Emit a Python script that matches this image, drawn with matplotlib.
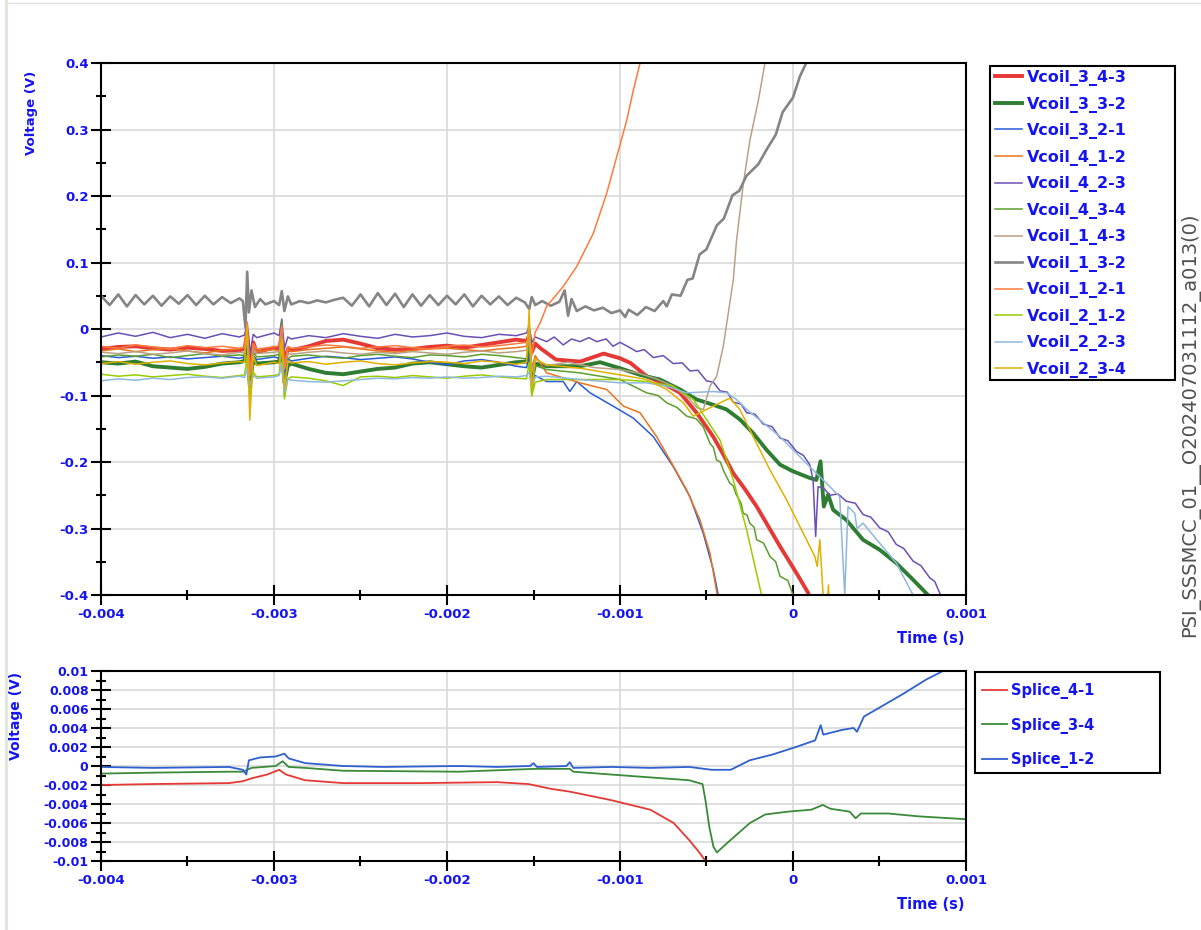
import numpy as np
import matplotlib
matplotlib.use('Agg')
import matplotlib.pyplot as plt
from matplotlib.ticker import MultipleLocator
from matplotlib.patches import Rectangle
from matplotlib.lines import Line2D

plt.rcParams['font.family'] = ['DejaVu Sans']
plt.rcParams['font.weight'] = 'bold'

BLUE = '#1414f0'

# ---------------- top panel data (time in ms, voltage in V) ----------------
names = ['Vcoil_3_4-3', 'Vcoil_3_3-2', 'Vcoil_3_2-1', 'Vcoil_4_1-2', 'Vcoil_4_2-3', 'Vcoil_4_3-4',
         'Vcoil_1_4-3', 'Vcoil_1_3-2', 'Vcoil_1_2-1', 'Vcoil_2_1-2', 'Vcoil_2_2-3', 'Vcoil_2_3-4']
colors = ['#e53935', '#2e7d32', '#2a5bd7', '#e8741c', '#6a4fb5', '#5c9e2e',
          '#b9a186', '#858585', '#ff7a3c', '#99cc00', '#8fb8de', '#e0b000']
widths = [2.8, 2.8, 1.1, 1.1, 1.1, 1.1, 1.1, 1.9, 1.1, 1.1, 1.1, 1.1]

# common time base for the flat part (before -1.45 ms)
t_flat = [-4.0, -3.9, -3.8, -3.7, -3.6, -3.5, -3.4, -3.3, -3.2, -3.17, -3.155, -3.14, -3.12,
          -3.1, -3.0, -2.97, -2.955, -2.94, -2.92, -2.9, -2.8, -2.7, -2.6, -2.5, -2.4, -2.3,
          -2.2, -2.1, -2.0, -1.9, -1.8, -1.7, -1.6, -1.54, -1.525, -1.51, -1.49]

flat_3_43 = [-0.030, -0.027, -0.026, -0.029, -0.031, -0.028, -0.030, -0.033, -0.032, -0.030, -0.005,
             -0.060, -0.020, -0.035, -0.028, -0.030, -0.010, -0.055, -0.030, -0.032, -0.026, -0.018,
             -0.016, -0.022, -0.029, -0.031, -0.030, -0.027, -0.025, -0.028, -0.024, -0.020, -0.016,
             -0.018, -0.010, -0.035, -0.022]
flat_3_32 = [-0.050, -0.052, -0.049, -0.056, -0.058, -0.060, -0.057, -0.052, -0.050, -0.048, -0.020,
             -0.085, -0.045, -0.052, -0.050, -0.049, -0.030, -0.080, -0.055, -0.052, -0.060, -0.066,
             -0.068, -0.064, -0.060, -0.058, -0.052, -0.050, -0.053, -0.056, -0.058, -0.054, -0.050,
             -0.049, -0.035, -0.075, -0.052]
flat_3_21 = [-0.040, -0.043, -0.041, -0.044, -0.042, -0.045, -0.043, -0.041, -0.044, -0.042, -0.015,
             -0.075, -0.040, -0.046, -0.042, -0.044, -0.020, -0.070, -0.045, -0.048, -0.044, -0.041,
             -0.043, -0.046, -0.044, -0.042, -0.045, -0.050, -0.054, -0.048, -0.046, -0.050, -0.056,
             -0.058, -0.040, -0.085, -0.070]
flat_4_12 = [-0.033, -0.030, -0.034, -0.031, -0.029, -0.033, -0.036, -0.032, -0.030, -0.028, 0.005,
             -0.070, -0.025, -0.034, -0.031, -0.033, -0.005, -0.060, -0.030, -0.034, -0.031, -0.029,
             -0.027, -0.030, -0.033, -0.035, -0.032, -0.030, -0.029, -0.031, -0.033, -0.030, -0.028,
             -0.026, 0.000, -0.060, -0.040]
flat_4_23 = [-0.012, -0.006, -0.011, -0.005, -0.013, -0.008, -0.014, -0.007, -0.012, -0.009, 0.010,
             -0.040, -0.008, -0.013, -0.006, -0.010, 0.015, -0.030, -0.012, -0.015, -0.010, -0.013,
             -0.007, -0.011, -0.014, -0.008, -0.012, -0.010, -0.006, -0.011, -0.013, -0.008, -0.010,
             -0.006, 0.005, -0.020, -0.012]
flat_4_34 = [-0.042, -0.039, -0.041, -0.038, -0.043, -0.040, -0.037, -0.041, -0.039, -0.040, 0.000,
             -0.090, -0.035, -0.042, -0.040, -0.038, 0.012, -0.100, -0.045, -0.041, -0.039, -0.042,
             -0.044, -0.040, -0.038, -0.041, -0.043, -0.039, -0.040, -0.042, -0.038, -0.040, -0.043,
             -0.045, -0.020, -0.100, -0.055]
flat_1_43 = [-0.035, -0.037, -0.034, -0.038, -0.036, -0.033, -0.037, -0.039, -0.035, -0.036, -0.010,
             -0.070, -0.030, -0.037, -0.035, -0.034, -0.015, -0.060, -0.036, -0.038, -0.035, -0.033,
             -0.036, -0.038, -0.035, -0.037, -0.034, -0.036, -0.038, -0.035, -0.033, -0.036, -0.034,
             -0.032, -0.015, -0.065, -0.045]
flat_1_21 = [-0.026, -0.029, -0.024, -0.027, -0.030, -0.025, -0.028, -0.026, -0.029, -0.027, 0.010,
             -0.065, -0.022, -0.030, -0.027, -0.025, 0.005, -0.058, -0.026, -0.029, -0.027, -0.024,
             -0.026, -0.029, -0.027, -0.025, -0.028, -0.030, -0.026, -0.024, -0.027, -0.025, -0.022,
             -0.020, -0.005, -0.040, -0.005]
flat_2_12 = [-0.068, -0.071, -0.069, -0.072, -0.070, -0.068, -0.071, -0.073, -0.070, -0.069, -0.040,
             -0.105, -0.065, -0.072, -0.070, -0.068, -0.020, -0.105, -0.075, -0.072, -0.074, -0.078,
             -0.085, -0.072, -0.071, -0.073, -0.070, -0.072, -0.074, -0.071, -0.069, -0.072, -0.074,
             -0.075, -0.050, -0.100, -0.080]
flat_2_23 = [-0.078, -0.075, -0.077, -0.074, -0.076, -0.073, -0.072, -0.074, -0.071, -0.073, -0.060,
             -0.085, -0.070, -0.074, -0.072, -0.070, -0.050, -0.095, -0.075, -0.077, -0.079, -0.080,
             -0.078, -0.076, -0.074, -0.075, -0.073, -0.074, -0.072, -0.074, -0.073, -0.071, -0.072,
             -0.070, -0.065, -0.085, -0.072]
flat_2_34 = [-0.052, -0.049, -0.053, -0.050, -0.048, -0.052, -0.054, -0.051, -0.049, -0.050, 0.005,
             -0.137, -0.040, -0.055, -0.050, -0.052, -0.015, -0.090, -0.048, -0.051, -0.049, -0.053,
             -0.050, -0.048, -0.052, -0.054, -0.051, -0.049, -0.050, -0.052, -0.048, -0.050, -0.053,
             -0.050, 0.029, -0.091, -0.045]

# late parts, after -1.45 ms
late_t_3_43 = [-1.46, -1.37, -1.23, -1.095, -1.0, -0.94, -0.846, -0.75, -0.653, -0.557, -0.461, -0.40,
               -0.345, -0.28, -0.21, -0.14, -0.075, 0.02, 0.088, 0.10]
late_v_3_43 = [-0.029, -0.046, -0.049, -0.037, -0.044, -0.051, -0.071, -0.082, -0.096, -0.126, -0.162,
               -0.190, -0.217, -0.240, -0.267, -0.298, -0.327, -0.367, -0.397, -0.410]
late_t_3_32 = [-1.424, -1.231, -1.115, -1.0, -0.884, -0.769, -0.653, -0.557, -0.461, -0.384, -0.307,
               -0.229, -0.152, -0.075, 0.0, 0.097, 0.135, 0.159, 0.178, 0.203, 0.232, 0.308, 0.405,
               0.501, 0.597, 0.694, 0.78, 0.80]
late_v_3_32 = [-0.056, -0.056, -0.050, -0.059, -0.069, -0.076, -0.091, -0.106, -0.114, -0.121, -0.136,
               -0.157, -0.182, -0.204, -0.214, -0.224, -0.227, -0.199, -0.267, -0.249, -0.272, -0.287,
               -0.317, -0.332, -0.352, -0.377, -0.400, -0.410]
late_t_3_21 = [-1.424, -1.328, -1.29, -1.25, -1.173, -1.04, -0.923, -0.807, -0.692, -0.596, -0.519,
               -0.461, -0.432, -0.42]
late_v_3_21 = [-0.079, -0.079, -0.094, -0.079, -0.096, -0.116, -0.134, -0.162, -0.207, -0.252, -0.307,
               -0.362, -0.400, -0.410]
late_t_4_12 = [-1.424, -1.231, -1.077, -0.98, -0.884, -0.788, -0.711, -0.615, -0.538, -0.48, -0.438, -0.43]
late_v_4_12 = [-0.066, -0.081, -0.091, -0.116, -0.126, -0.162, -0.197, -0.242, -0.287, -0.337, -0.400, -0.410]
late_t_4_23 = [-1.424, -1.38, -1.328, -1.28, -1.231, -1.18, -1.135, -1.08, -1.04, -1.0, -0.95, -0.904,
               -0.86, -0.807, -0.75, -0.692, -0.64, -0.596, -0.55, -0.5, -0.46, -0.422, -0.38, -0.345,
               -0.30, -0.268, -0.22, -0.172, -0.12, -0.075, -0.03, 0.02, 0.06, 0.097, 0.116, 0.131,
               0.145, 0.18, 0.212, 0.26, 0.308, 0.36, 0.405, 0.45, 0.501, 0.55, 0.597, 0.64, 0.694,
               0.74, 0.79, 0.82, 0.848, 0.87]
late_v_4_23 = [-0.019, -0.012, -0.024, -0.015, -0.019, -0.013, -0.019, -0.015, -0.026, -0.020, -0.027,
               -0.034, -0.031, -0.043, -0.040, -0.052, -0.051, -0.063, -0.062, -0.078, -0.080, -0.093,
               -0.095, -0.110, -0.113, -0.126, -0.128, -0.143, -0.147, -0.164, -0.168, -0.184, -0.190,
               -0.204, -0.227, -0.312, -0.237, -0.240, -0.250, -0.248, -0.259, -0.262, -0.279, -0.283,
               -0.299, -0.305, -0.324, -0.330, -0.349, -0.356, -0.374, -0.380, -0.397, -0.410]
late_t_4_34 = [-1.424, -1.231, -1.0, -0.846, -0.78, -0.73, -0.67, -0.615, -0.56, -0.519, -0.48, -0.46,
               -0.442, -0.42, -0.4, -0.365, -0.345, -0.33, -0.30, -0.288, -0.265, -0.25, -0.225, -0.21,
               -0.17, -0.133, -0.10, -0.075, -0.03, 0.0, 0.01]
late_v_4_34 = [-0.061, -0.066, -0.076, -0.096, -0.100, -0.111, -0.118, -0.131, -0.135, -0.147, -0.172,
               -0.178, -0.197, -0.200, -0.214, -0.232, -0.236, -0.248, -0.262, -0.277, -0.280, -0.292,
               -0.298, -0.317, -0.322, -0.342, -0.350, -0.372, -0.378, -0.400, -0.410]
late_t_1_43 = [-1.424, -1.3, -1.15, -1.0, -0.9, -0.8, -0.7, -0.6, -0.556, -0.518, -0.48, -0.441, -0.403,
               -0.374, -0.345, -0.326, -0.287, -0.249, -0.2, -0.162, -0.15]
late_v_1_43 = [-0.055, -0.050, -0.058, -0.061, -0.066, -0.074, -0.085, -0.105, -0.118, -0.121, -0.086,
               -0.071, -0.026, 0.024, 0.074, 0.134, 0.219, 0.284, 0.344, 0.400, 0.420]
late_t_1_21 = [-1.46, -1.424, -1.328, -1.25, -1.154, -1.077, -1.019, -0.961, -0.923, -0.884, -0.87]
late_v_1_21 = [0.010, 0.034, 0.064, 0.094, 0.144, 0.204, 0.259, 0.314, 0.359, 0.400, 0.420]
late_t_2_12 = [-1.424, -1.231, -1.0, -0.846, -0.692, -0.576, -0.5, -0.422, -0.345, -0.268, -0.182, -0.17]
late_v_2_12 = [-0.076, -0.076, -0.076, -0.079, -0.086, -0.106, -0.136, -0.167, -0.227, -0.302, -0.400, -0.410]
late_t_2_23 = [-1.424, -1.231, -1.0, -0.846, -0.73, -0.615, -0.461, -0.384, -0.326, -0.268, -0.172,
               -0.075, 0.02, 0.116, 0.193, 0.27, 0.299, 0.318, 0.357, 0.37, 0.405, 0.501, 0.597, 0.694]
late_v_2_23 = [-0.071, -0.076, -0.081, -0.081, -0.086, -0.096, -0.094, -0.096, -0.106, -0.121, -0.141,
               -0.162, -0.187, -0.212, -0.232, -0.252, -0.400, -0.267, -0.277, -0.300, -0.292, -0.322,
               -0.352, -0.400]
late_t_2_34 = [-1.424, -1.231, -1.0, -0.846, -0.73, -0.634, -0.576, -0.5, -0.422, -0.365, -0.307, -0.23,
               -0.133, -0.037, 0.059, 0.126, 0.14, 0.155, 0.174, 0.19, 0.205, 0.215]
late_v_2_34 = [-0.054, -0.059, -0.069, -0.076, -0.091, -0.111, -0.131, -0.121, -0.111, -0.104, -0.121,
               -0.162, -0.212, -0.257, -0.307, -0.342, -0.357, -0.317, -0.400, -0.450, -0.385, -0.450]

# Vcoil_1_3-2 (gray) has its own, denser time base
t_gray = [-4.0, -3.95, -3.9, -3.85, -3.8, -3.75, -3.7, -3.65, -3.6, -3.55, -3.5, -3.45, -3.4, -3.35,
          -3.3, -3.25, -3.2,
          -3.18, -3.165, -3.155, -3.145, -3.13, -3.11, -3.08, -3.05, -3.0,
          -2.97, -2.955, -2.94, -2.92, -2.9,
          -2.85, -2.8, -2.75, -2.7, -2.65,
          -2.6, -2.55, -2.5, -2.45, -2.4, -2.35, -2.3, -2.25, -2.2, -2.15, -2.1, -2.05, -2.0, -1.95,
          -1.9, -1.85, -1.8, -1.75, -1.7, -1.65, -1.6,
          -1.55, -1.525, -1.51, -1.49,
          -1.45, -1.4, -1.35, -1.32, -1.3, -1.28, -1.25,
          -1.2, -1.15, -1.1, -1.05, -1.0, -0.97, -0.95, -0.9, -0.85, -0.8, -0.75, -0.73, -0.7,
          -0.65, -0.61, -0.58, -0.54, -0.5, -0.44, -0.4, -0.35, -0.31, -0.27, -0.2, -0.15, -0.1,
          -0.06, 0.0, 0.04, 0.08, 0.1]
v_gray = [0.050, 0.036, 0.052, 0.034, 0.051, 0.037, 0.050, 0.035, 0.049, 0.038, 0.051, 0.036, 0.050,
          0.037, 0.048, 0.039, 0.046,
          0.042, 0.002, 0.086, 0.025, 0.058, 0.033, 0.045, 0.037, 0.042,
          0.036, 0.057, 0.027, 0.049, 0.037,
          0.042, 0.039, 0.043, 0.040, 0.044,
          0.047, 0.035, 0.052, 0.034, 0.054, 0.036, 0.053, 0.033, 0.052, 0.035, 0.051, 0.036, 0.050,
          0.037, 0.052, 0.034, 0.050, 0.037, 0.049, 0.036, 0.047,
          0.040, 0.030, 0.048, 0.036,
          0.042, 0.035, 0.041, 0.058, 0.020, 0.045, 0.027,
          0.034, 0.028, 0.032, 0.024, 0.028, 0.018, 0.029, 0.021, 0.033, 0.027, 0.042, 0.034, 0.052,
          0.050, 0.074, 0.076, 0.112, 0.120, 0.156, 0.166, 0.201, 0.208, 0.230, 0.248, 0.271, 0.292,
          0.326, 0.348, 0.380, 0.402, 0.430]

flats = [flat_3_43, flat_3_32, flat_3_21, flat_4_12, flat_4_23, flat_4_34,
         flat_1_43, None, flat_1_21, flat_2_12, flat_2_23, flat_2_34]
lates = [(late_t_3_43, late_v_3_43), (late_t_3_32, late_v_3_32), (late_t_3_21, late_v_3_21),
         (late_t_4_12, late_v_4_12), (late_t_4_23, late_v_4_23), (late_t_4_34, late_v_4_34),
         (late_t_1_43, late_v_1_43), (t_gray, v_gray), (late_t_1_21, late_v_1_21),
         (late_t_2_12, late_v_2_12), (late_t_2_23, late_v_2_23), (late_t_2_34, late_v_2_34)]

# ---------------- bottom panel data ----------------
splice_names = ['Splice_4-1', 'Splice_3-4', 'Splice_1-2']
splice_colors = ['#e53935', '#3a8a3a', '#3060d0']

t_s41 = [-4.0, -3.7, -3.26, -3.18, -3.13, -3.04, -2.97, -2.93, -2.82, -2.6, -2.15, -1.71, -1.53, -1.4,
         -1.29, -1.05, -0.825, -0.69, -0.6, -0.537, -0.506, -0.49]
v_s41 = [-0.0020, -0.0019, -0.0018, -0.0016, -0.0013, -0.0009, -0.0004, -0.0009, -0.0015, -0.0018,
         -0.0018, -0.0017, -0.0019, -0.0024, -0.0027, -0.0036, -0.0046, -0.0060, -0.0078, -0.0092,
         -0.0100, -0.0106]
t_s34 = [-4.0, -3.7, -3.26, -3.18, -3.13, -2.99, -2.95, -2.915, -2.82, -2.6, -1.93, -1.49, -1.29, -1.27,
         -1.05, -0.825, -0.6, -0.523, -0.506, -0.484, -0.46, -0.44, -0.38, -0.249, -0.16, -0.027, 0.106,
         0.172, 0.216, 0.327, 0.362, 0.393, 0.55, 0.725, 1.0]
v_s34 = [-0.0008, -0.0007, -0.0006, -0.0006, -0.0002, 0.0000, 0.0005, -0.0001, -0.0002, -0.0005,
         -0.0006, -0.0003, -0.0003, -0.0006, -0.0009, -0.0012, -0.0015, -0.0019, -0.0036, -0.0064,
         -0.0085, -0.0091, -0.0081, -0.0060, -0.0051, -0.0048, -0.0046, -0.0041, -0.0045, -0.0048,
         -0.0055, -0.0050, -0.0050, -0.0053, -0.0056]
t_s12 = [-4.0, -3.7, -3.26, -3.18, -3.16, -3.145, -3.08, -2.99, -2.94, -2.915, -2.82, -2.6, -2.37,
         -1.93, -1.71, -1.52, -1.50, -1.48, -1.31, -1.29, -1.27, -1.05, -0.825, -0.6, -0.47, -0.36,
         -0.25, -0.12, 0.017, 0.128, 0.16, 0.175, 0.283, 0.35, 0.37, 0.41, 0.505, 0.637, 0.77, 0.867, 0.9]
v_s12 = [-0.0001, -0.0002, -0.0001, -0.0004, -0.0009, 0.0006, 0.0009, 0.0010, 0.0013, 0.0008, 0.0003,
         0.0000, -0.0001, 0.0000, -0.0001, 0.0000, 0.0003, -0.0001, 0.0000, 0.0004, -0.0002, -0.0001,
         -0.0002, -0.0001, -0.0004, -0.0004, 0.0006, 0.0012, 0.0020, 0.0027, 0.0043, 0.0033, 0.0038,
         0.0040, 0.0036, 0.0052, 0.0062, 0.0076, 0.0091, 0.0100, 0.0103]
splice_t = [t_s41, t_s34, t_s12]
splice_v = [v_s41, v_s34, v_s12]

x_ticks = [-0.004, -0.003, -0.002, -0.001, 0.0, 0.001]
x_labels = ['-0.004', '-0.003', '-0.002', '-0.001', '0', '0.001']
y1_ticks = [-0.4, -0.3, -0.2, -0.1, 0.0, 0.1, 0.2, 0.3, 0.4]
y1_labels = ['-0.4', '-0.3', '-0.2', '-0.1', '0', '0.1', '0.2', '0.3', '0.4']
y2_ticks = [-0.01, -0.008, -0.006, -0.004, -0.002, 0.0, 0.002, 0.004, 0.006, 0.008, 0.01]
y2_labels = ['-0.01', '-0.008', '-0.006', '-0.004', '-0.002', '0', '0.002', '0.004', '0.006',
             '0.008', '0.01']

# ---------------- figure ----------------
W, H = 1201, 930
fig = plt.figure(figsize=(W / 100, H / 100), dpi=100)
fig.add_artist(Line2D([6 / W, 6 / W], [0, 1], color='#dde6da', lw=2))
fig.add_artist(Line2D([6 / W, 1], [1 - 3 / H, 1 - 3 / H], color='#e2e2e2', lw=1))

ax1 = fig.add_axes([101 / W, 1 - 595 / H, 865 / W, 532 / H])
ax2 = fig.add_axes([101 / W, 1 - 861 / H, 865 / W, 190 / H])


def style_axes(ax, yticks, ylabels, yminor, ysize):
    ax.set_xlim(-0.004, 0.001)
    ax.set_xticks(x_ticks)
    ax.set_xticklabels(x_labels)
    ax.set_yticks(yticks)
    ax.set_yticklabels(ylabels)
    ax.xaxis.set_minor_locator(MultipleLocator(0.0005))
    ax.yaxis.set_minor_locator(MultipleLocator(yminor))
    ax.grid(True, which='major', color='#d9d9d9', lw=1.2)
    ax.set_axisbelow(True)
    ax.tick_params(which='major', direction='inout', length=14, width=1.5, color='black',
                   labelcolor=BLUE, labelsize=9.5, pad=2)
    ax.tick_params(axis='y', which='major', labelsize=ysize)
    ax.tick_params(which='minor', direction='inout', length=7, width=1.5, color='black')
    for s in ax.spines.values():
        s.set_linewidth(1.5)
        s.set_color('black')
    for lbl in ax.get_xticklabels() + ax.get_yticklabels():
        lbl.set_fontweight('bold')


handles = []
for i in range(len(names)):
    lt, lv = lates[i]
    if flats[i] is None:
        t = np.array(lt)
        v = np.array(lv)
    else:
        t = np.array(t_flat + lt)
        v = np.array(flats[i] + lv)
    ln, = ax1.plot(t * 1e-3, v, color=colors[i], lw=widths[i], label=names[i], zorder=2 + i * 0.01)
    handles.append(ln)
ax1.set_ylim(-0.4, 0.4)
style_axes(ax1, y1_ticks, y1_labels, 0.05, 9.5)

handles2 = []
for i in range(len(splice_names)):
    ln, = ax2.plot(np.array(splice_t[i]) * 1e-3, splice_v[i], color=splice_colors[i], lw=1.3,
                   label=splice_names[i])
    handles2.append(ln)
ax2.set_ylim(-0.01, 0.01)
style_axes(ax2, y2_ticks, y2_labels, 0.001, 9)

# legends, with their boxes drawn separately
leg1 = fig.legend(handles=handles, loc='upper left', bbox_to_anchor=(995 / W, 1 - 70 / H),
                  frameon=False, fontsize=11.5, handlelength=1.7, handletextpad=0.3,
                  labelspacing=0.66, borderpad=0, borderaxespad=0)
for txt in leg1.get_texts():
    txt.set_color(BLUE)
fig.add_artist(Rectangle((990 / W, 1 - 380 / H), 185 / W, 314 / H, transform=fig.transFigure,
                         fill=False, ec='black', lw=1.5))

leg2 = fig.legend(handles=handles2, loc='upper left', bbox_to_anchor=(982 / W, 1 - 683 / H),
                  frameon=False, fontsize=10.5, handlelength=1.7, handletextpad=0.3,
                  labelspacing=1.27, borderpad=0, borderaxespad=0)
for txt in leg2.get_texts():
    txt.set_color(BLUE)
fig.add_artist(Rectangle((975 / W, 1 - 773 / H), 185 / W, 101 / H, transform=fig.transFigure,
                         fill=False, ec='black', lw=1.5))

fig.text(32 / W, 1 - 113 / H, 'Voltage (V)', rotation=90, ha='center', va='center', color=BLUE,
         fontsize=9.5, fontweight='bold')
fig.text(16 / W, 1 - 716 / H, 'Voltage (V)', rotation=90, ha='center', va='center', color=BLUE,
         fontsize=10, fontweight='bold')
fig.text(931 / W, 1 - 638 / H, 'Time (s)', ha='center', va='center', color=BLUE, fontsize=10.5,
         fontweight='bold')
fig.text(931 / W, 1 - 904 / H, 'Time (s)', ha='center', va='center', color=BLUE, fontsize=10.5,
         fontweight='bold')
fig.text(1190 / W, 1 - 425 / H, 'PSI_SSSMCC_01__O202407031112_a013(0)', rotation=90, ha='center',
         va='center', color='#505050', fontsize=14, fontweight='normal')

fig.savefig('out.png', dpi=100)
